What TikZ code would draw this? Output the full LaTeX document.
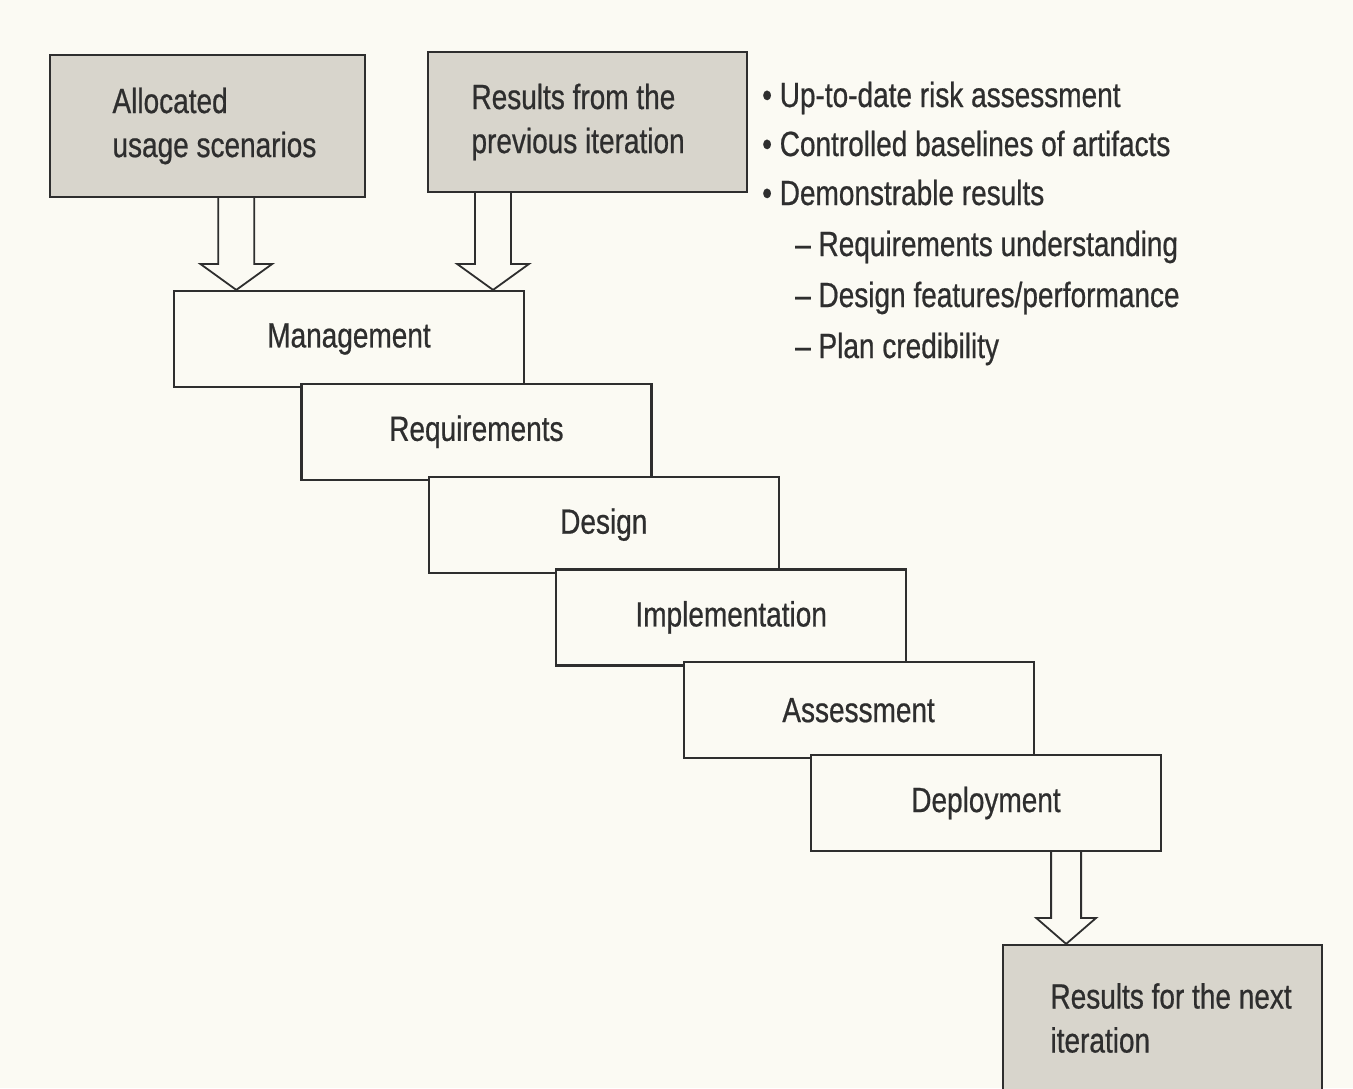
\documentclass[tikz,border=0pt]{standalone}
\usepackage{fontspec}
\setmainfont[FakeStretch=0.8, FakeBold=0.6]{Liberation Sans}
\usetikzlibrary{calc}

\definecolor{paper}{HTML}{FBFAF3}
\definecolor{shade}{HTML}{D8D5CC}
\definecolor{ink}{HTML}{2E2E2E}

\tikzset{
	stage/.style={draw=ink, fill=paper, line width=2.2pt, minimum width=350pt, minimum height=96pt, inner sep=0pt},
	inbox/.style={draw=ink, fill=shade, line width=2.2pt, inner sep=0pt, align=flush left},
	hollow/.style={draw=ink, fill=paper, line width=1.8pt, line join=miter}
}

% hollow block arrow from a box bottom down to its tip
\newcommand{\hollowarrow}[3]{%
	\draw[hollow] let \p1=(#1), \p2=(#2) in
	(\x1-#3,\y1) -- (\x1-#3,\y2+26pt) -- (\x1-2*#3,\y2+26pt) -- (\x2,\y2)
	-- (\x1+2*#3,\y2+26pt) -- (\x1+#3,\y2+26pt) -- (\x1+#3,\y1);
}

\begin{document}
\begin{tikzpicture}[x=1pt, y=-1pt, font=\fontsize{35}{44}\selectfont, text=ink]
	\useasboundingbox (0,0) rectangle (1353,1088);
	\fill[paper] (0,0) rectangle (1353,1088);
	\clip (0,0) rectangle (1353,1088);
	%inputs
	\node[inbox, minimum width=315pt, minimum height=142pt, text width=252pt] (alloc) at (207.5,126) {\hspace*{31pt}Allocated\\\hspace*{31pt}usage scenarios};
	\node[inbox, minimum width=319pt, minimum height=140pt, text width=256pt] (prev) at (587.5,122) {\hspace*{12pt}Results from the\\\hspace*{12pt}previous iteration};
	%stages
	\foreach \nm/\txt [count=\i from 0] in {mgmt/Management, req/Requirements, design/Design, impl/Implementation, assess/Assessment, deploy/Deployment}
	\node[stage] (\nm) at (349+127.4*\i, 339+92.8*\i) {\txt};
	%output
	\node[inbox, minimum width=319pt, minimum height=146pt, text width=272pt] (next) at (1162.5,1018) {\hspace*{24pt}Results for the next\\\hspace*{24pt}iteration};
	%arrows
	\coordinate (inL) at ($(mgmt.north west)!0.18!(mgmt.north east)$);
	\coordinate (inR) at ($(mgmt.north west)!0.909!(mgmt.north east)$);
	\coordinate (inN) at ($(next.north west)!0.2!(next.north east)$);
	\hollowarrow{alloc.south -| inL}{inL}{18pt}
	\hollowarrow{prev.south -| inR}{inR}{18pt}
	\hollowarrow{deploy.south -| inN}{inN}{15pt}
	%results list
	\node[anchor=base west, inner sep=0pt] (risk) at (762,107) {• Up-to-date risk assessment};
	\node[anchor=base west, inner sep=0pt] (base) at (762,156) {• Controlled baselines of artifacts};
	\node[anchor=base west, inner sep=0pt] (demo) at (762,205) {• Demonstrable results};
	\node[anchor=base west, inner sep=0pt] (under) at (795,256) {– Requirements understanding};
	\node[anchor=base west, inner sep=0pt] (feat) at (795,307) {– Design features/performance};
	\node[anchor=base west, inner sep=0pt] (plan) at (795,358) {– Plan credibility};
\end{tikzpicture}
\end{document}
